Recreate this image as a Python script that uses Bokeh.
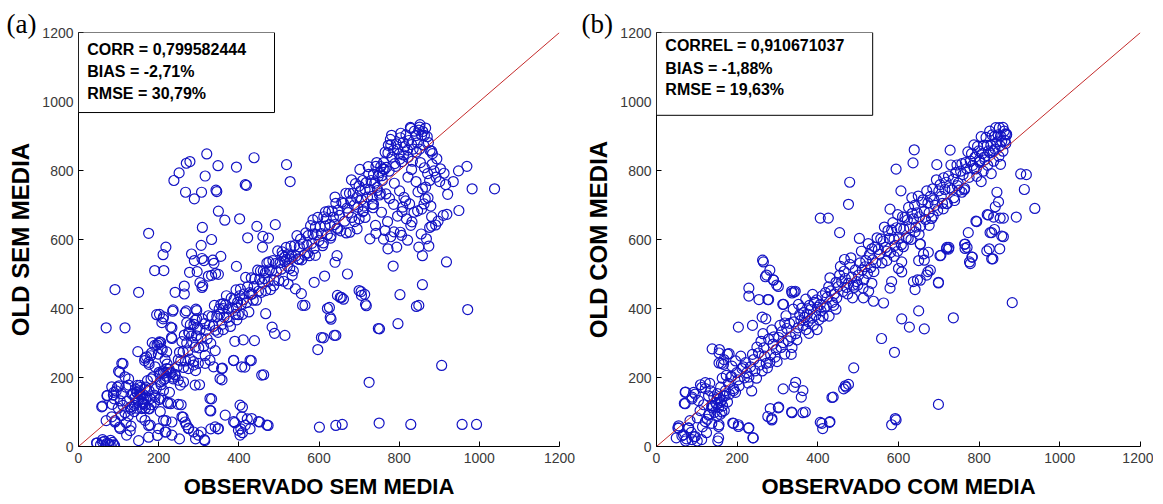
from bokeh.plotting import figure
from bokeh.layouts import row
from bokeh.models import Range1d, FixedTicker, BoxAnnotation, Label
from bokeh.embed import file_html
from bokeh.resources import INLINE

# ---------------- data ----------------
ticks = [0, 200, 400, 600, 800, 1000, 1200]
axis_limits = [0, 1200]
ref_line = [0, 1200]

stats_a = ["CORR = 0,799582444", "BIAS   = -2,71%", "RMSE = 30,79%"]
stats_b = ["CORREL = 0,910671037", "BIAS = -1,88%", "RMSE = 19,63%"]
xlabel_a = "OBSERVADO SEM MEDIA"
ylabel_a = "OLD SEM MEDIA"
xlabel_b = "OBSERVADO COM MEDIA"
ylabel_b = "OLD COM MEDIA"

# panel (a): (observado, old) pairs
pts_a = [
    # scattered points above the diagonal
    (320,848),(438,837),(348,814),(394,810),(278,826),(269,821),(251,793),(238,771),(316,784),(519,817),
    (528,768),(419,757),(267,737),(307,737),(289,718),(345,739),(349,682),(309,635),(365,656),(402,660),
    (445,638),(491,643),(422,605),(460,609),(474,604),(459,578),(332,600),(306,583),(175,618),(218,578),
    (211,556),(282,558),(289,539),(313,539),(355,551),(338,531),(394,522),(349,499),(332,496),(277,505),
    (296,507),(310,466),(190,510),(213,510),(91,455),(150,447),(69,344),(116,344),(241,447),(264,465),
    (264,442),(236,396),(202,383),(211,370),(230,346),(232,316),(205,302),(269,393),(295,394),(279,353),
    (295,370),(275,331),(361,414),(394,402),(390,305),(411,309),(439,307),(387,249),(415,230),(431,249),
    (462,208),(467,385),(483,346),(489,328),(515,322),(359,227),(358,193),(302,179),(292,220),(332,138),
    (330,103),(409,114),(230,124),(256,121),(303,475),(308,461),(324,494),(342,501),(308,545),(335,540),
    (343,743),(416,759),
    # low values
    (601,56),(642,61),(658,64),(750,68),(829,64),(957,64),(993,64),(473,61),(452,71),(421,80),
    (428,51),(409,40),(405,51),(390,69),(348,51),(330,51),(306,42),(315,17),(292,22),(275,53),
    (269,63),(261,85),(252,22),(218,42),(218,75),(197,32),(175,27),(150,17),(175,61),(157,85),
    (129,46),(102,56),(69,75),(91,75),(107,90),(88,5),(72,10),(46,10),(60,13),(79,5),
    (60,117),(72,148),(97,172),(88,157),(107,153),(103,215),(111,240),(125,196),(118,172),(129,114),
    (146,111),(162,124),(177,109),(190,128),(205,140),(222,128),(227,157),(212,162),(236,196),(218,215),
    (201,215),(181,196),(167,172),(142,167),(153,153),(153,177),(148,275),(165,249),(175,244),(180,263),
    (190,293),(195,382),(212,376),(235,392),(266,388),(293,398),(270,359),(291,366),(233,344),(208,359),
    (170,260),(200,299),(206,284),(220,274),(233,313),(108,241),(100,218),(116,202),(125,178),(83,173),
    (87,149),(71,147),(58,115),(83,86),(91,71),(104,52),(120,33),
    (137,154),(145,158),(154,149),(162,139),(150,134),(141,125),(166,120),(175,110),(158,110),(179,139),
    (191,144),(212,212),(220,226),(229,216),(241,207),(216,197),(204,187),(249,192),(274,226),(287,236),
    (299,241),(254,178),(262,187),(291,178),(224,125),(249,122),(204,101),(212,76),(233,71),(166,76),
    (179,62),(200,52),(216,42),(233,33),(258,86),(266,71),(274,52),(287,42),(299,33),(314,20),
    (328,139),(328,105),(341,57),(349,52),(366,91),(387,72),(403,120),(407,86),(416,62),(432,81),
    (449,72),(470,62),(399,47),(403,33),(387,250),(407,231),(428,250),(457,207),(357,226),(353,197),
    (328,250),(316,241),(337,231),
    (45,10),(55,5),(65,15),(75,8),(85,12),(90,3),(60,20),(80,18),
    # scattered points below the diagonal
    (1038,747),(982,747),(969,812),(948,799),(935,768),(949,684),(919,673),(910,670),(881,666),(876,635),
    (849,578),(855,616),(918,535),(906,235),(971,397),(858,469),(849,409),(797,356),(802,440),(785,523),
    (794,578),(803,621),(765,626),(772,573),(751,341),(725,186),(714,441),(705,449),(718,408),(727,602),
    (741,641),(671,500),(656,432),(661,427),(642,322),(626,403),(630,369),(611,315),(597,281),(614,494),
    (640,534),(645,553),(677,621),(709,680),(700,660),(565,409),(541,457),(523,471),(514,549),(533,496),
    (588,476),(894,834),(903,805),(881,856),(858,553),(829,641),(809,694),(818,660),(837,679),(865,718),
    (858,747),(876,771),(606,316),(638,322),(748,342),(843,406),(621,400),(628,374),(646,438),(653,432),
    (700,452),(706,438),(716,412),(559,409),(556,443),
    # dense band, low cluster
    (141,142),(146,156),(151,161),(156,146),(161,151),(149,133),(166,167),(154,171),(139,119),(134,151),
    (171,141),(162,126),(176,162),(147,177),(158,129),(131,108),(121,131),(167,111),(181,121),(172,191),
    (186,202),(176,238),(191,231),(204,212),(211,219),(216,252),(221,239),(199,268),(182,271),(166,256),
    (184,301),(196,294),(202,303),(209,281),(226,224),(231,213),(236,201),(241,209),(246,231),(249,252),
    (219,204),(213,194),(206,179),(194,168),(201,136),(189,149),(99,111),(111,119),(116,98),(104,132),
    (94,161),(89,138),(84,122),(101,176),(124,89),(139,101),(119,69),(131,59),
    # dense band 250-350
    (252,273),(255,248),(258,304),(261,274),(264,323),(267,248),(270,300),(273,277),(276,328),(279,253),
    (282,320),(285,302),(288,354),(291,288),(294,321),(297,346),(300,286),(303,338),(306,314),(309,370),
    (312,290),(315,356),(318,337),(321,312),(324,379),(327,351),(330,299),(333,377),(336,348),(339,409),
    (342,337),(345,377),(348,331),(351,399),(262,229),(287,246),(316,264),(341,278),
    # dense band 350-460
    (352,383),(358,354),(355,412),(363,375),(361,339),(367,411),(371,374),(369,437),(376,363),(374,399),
    (381,430),(379,348),(385,401),(388,426),(391,383),(393,454),(397,418),(399,382),(402,437),(406,413),
    (404,456),(409,383),(413,442),(411,425),(417,490),(419,417),(422,463),(425,390),(427,446),(431,489),
    (433,442),(436,424),(440,486),(438,464),(444,424),(447,511),(449,450),(452,485),(456,447),(454,509),
    (458,475),(360,400),(395,367),(430,441),
    # dense band 460-560
    (461,509),(464,487),(467,452),(470,532),(473,478),(476,512),(479,455),(482,509),(485,539),(488,482),
    (491,530),(494,507),(497,567),(500,481),(503,533),(506,514),(509,554),(512,479),(515,536),(518,577),
    (521,523),(524,558),(527,516),(530,581),(533,551),(536,509),(539,582),(542,552),(545,611),(548,544),
    (551,579),(554,601),(557,541),(466,503),(487,466),(508,564),(529,544),(550,542),(475,535),(519,543),
    # dense band 560-660
    (561,587),(564,555),(567,619),(570,584),(573,611),(576,553),(579,640),(582,589),(585,616),(588,574),
    (591,636),(594,614),(597,664),(600,597),(603,638),(606,617),(609,582),(612,666),(615,639),(618,660),
    (621,614),(624,682),(627,643),(630,611),(633,682),(636,665),(639,643),(642,705),(645,633),(648,685),
    (651,670),(654,625),(657,708),(572,561),(591,554),(611,590),(629,604),(647,630),(585,657),(616,680),
    (640,723),
    # dense band 660-760
    (661,705),(664,653),(667,734),(670,691),(673,678),(676,734),(679,712),(682,664),(685,734),(688,700),
    (691,762),(694,721),(697,693),(700,755),(703,741),(706,715),(709,771),(712,697),(715,745),(718,765),
    (721,723),(724,789),(727,745),(730,771),(733,725),(736,789),(739,763),(742,812),(745,751),(748,783),
    (751,729),(754,811),(757,785),(760,805),(668,619),(689,652),(711,683),(733,702),(753,734),(681,773),
    (702,803),(723,811),(744,823),(695,631),(715,664),(735,692),
    # dense band 760-920
    (761,823),(765,853),(768,809),(772,851),(775,798),(779,874),(782,839),(786,859),(789,820),(793,877),
    (796,862),(800,848),(803,895),(807,826),(810,881),(814,869),(817,903),(821,859),(824,887),(828,925),
    (831,875),(835,862),(838,914),(842,901),(845,880),(849,917),(852,933),(856,902),(859,913),(863,902),
    (866,923),(870,898),(778,890),(804,908),(829,922),(851,926),
    (781,902),(773,873),(763,803),(791,812),(802,833),(811,845),(822,838),(833,827),(843,853),(851,862),
    (861,874),(873,881),(877,858),(883,849),(788,763),(801,741),(812,722),(822,781),(831,803),(842,768),
    (853,823),(863,808),(871,791),(882,818),(887,799),(892,781),(866,752),(847,738),(826,703),(816,712),
    (807,681),(796,668),(786,702),(776,719),(767,732),(758,771),(751,793),(746,742),(736,702),(756,679),
    (771,652),(742,618),(761,601),(779,608),(787,622),(806,612),(821,598),(832,651),(846,683),(856,688),
    (862,703),(872,721),(879,697),(891,642),(897,653),(881,639),(868,602),(874,581),(901,768),(912,792),
    (916,759),(921,731),
]

# panel (b): (observado, old) pairs
pts_b = [
    # scattered points
    (639,860),(636,822),(594,804),(479,766),(476,702),(406,662),(426,662),(454,620),(263,540),(281,511),
    (270,492),(290,483),(302,464),(229,459),(229,436),(254,426),(276,426),(313,412),(336,445),(341,448),
    (203,346),(238,351),(262,375),(271,370),(138,283),(155,271),(180,269),(166,238),(155,242),(72,158),
    (69,125),(88,143),(53,54),(49,25),(80,54),(83,75),(72,16),(101,16),(124,40),(152,16),
    (155,63),(189,68),(203,63),(229,54),(239,25),(286,77),(276,87),(302,112),(314,167),(341,172),
    (336,98),(363,98),(345,186),(363,162),(359,143),(406,70),(412,52),(429,70),(438,143),(464,167),
    (470,172),(489,228),(583,63),(594,77),(699,122),(590,273),(558,313),(608,370),(627,346),(650,393),
    (664,341),(736,373),(882,417),(938,690),(892,665),(903,790),(917,788),(912,745),(860,608),(860,662),
    (851,573),(834,544),(825,573),(783,549),(776,535),(770,577),(765,587),(773,620),(792,653),(820,672),
    (827,620),(838,629),(699,474),(705,554),(719,573),(725,577),(673,507),(664,540),(654,587),(647,483),
    (641,455),(265,535),(273,497),(290,482),(298,468),(335,450),(344,450),(278,426),(315,412),(435,142),
    (430,72),(410,67),(335,100),(369,100),(286,81),(282,110),(303,114),(592,81),(476,180),(468,176),
    (856,610),(831,620),(819,567),(831,544),(782,549),(778,530),(764,586),(765,574),(720,577),(724,572),
    (703,553),(699,476),(679,511),(670,497),(654,482),(637,478),(662,558),(674,563),(650,539),(654,586),
    (794,652),(823,671),(836,665),(852,662),(840,695),(848,709),(844,737),(608,506),(600,516),(608,535),
    (583,478),(579,459),(563,416),(534,473),(526,450),(538,421),(513,431),
    # low cluster
    (71,157),(92,157),(71,124),(88,138),(112,171),(121,185),(129,147),(137,119),(150,138),(158,128),
    (170,147),(162,100),(129,91),(121,72),(137,67),(154,58),(191,67),(203,58),(228,53),(240,25),
    (154,25),(55,53),(67,34),(88,20),(96,29),(112,20),(79,53),
    (55,60),(63,31),(74,22),(86,41),(93,28),(101,83),(108,104),(117,121),(126,79),(131,93),
    (137,112),(142,144),(114,57),(104,133),(96,152),(132,183),(121,168),(109,179),
    (146,128),(151,153),(156,139),(161,133),(166,147),(149,122),(139,118),(171,162),(159,172),(154,113),
    (144,99),(134,161),(164,118),(176,129),(181,152),(168,104),(158,93),(149,88),(178,183),(186,203),
    (191,168),(196,157),(173,206),(163,198),(161,241),(167,252),(156,281),(176,268),
    # band 180-300
    (184,201),(191,162),(187,233),(199,214),(205,176),(196,248),(212,226),(218,199),(209,262),(224,214),
    (221,243),(229,201),(233,231),(238,267),(227,184),(244,219),(249,288),(241,252),(256,236),(253,271),
    (262,219),(259,305),(268,262),(272,241),(266,286),(278,311),(283,266),(275,228),(289,297),(294,259),
    (286,338),(297,281),(281,244),(291,318),(236,161),(248,198),(264,327),(299,246),(215,231),(202,193),
    # band 300-420
    (303,316),(309,287),(306,351),(314,301),(318,268),(311,333),(323,342),(327,306),(321,379),(333,318),
    (336,287),(330,357),(341,361),(345,327),(339,398),(351,344),(355,382),(348,309),(358,366),(363,351),
    (360,401),(367,374),(371,339),(365,388),(376,362),(379,409),(374,384),(385,372),(389,352),(382,397),
    (391,418),(395,381),(387,441),(399,404),(403,368),(397,425),(408,393),(411,437),(406,412),(416,401),
    (419,446),(413,377),(352,412),(370,427),(334,267),(378,328),(398,339),(318,358),
    # band 420-540
    (423,432),(427,463),(421,407),(432,451),(436,418),(430,489),(441,442),(445,476),(439,409),(450,463),
    (454,497),(447,431),(459,478),(462,449),(456,522),(468,487),(471,461),(465,508),(476,473),(479,528),
    (474,442),(484,491),(488,468),(482,547),(493,512),(496,478),(490,461),(501,497),(505,532),(499,468),
    (510,511),(514,483),(508,566),(519,539),(523,502),(517,521),(528,556),(531,519),(525,588),(536,541),
    (539,507),(534,573),(445,398),(486,431),(466,542),(512,459),(428,378),(503,603),
    # band 540-660
    (541,578),(544,532),(547,605),(550,571),(553,557),(556,602),(559,532),(562,595),(565,636),(568,577),
    (571,566),(574,626),(577,603),(580,562),(583,627),(586,649),(589,601),(592,583),(595,634),(598,672),
    (601,602),(604,633),(607,585),(610,666),(613,630),(616,664),(619,605),(622,657),(625,693),(628,634),
    (631,600),(634,676),(637,660),(640,699),(643,636),(646,677),(649,726),(652,666),(655,639),(658,708),
    (571,539),(598,566),(624,603),(579,688),(612,579),(641,622),(606,741),(589,551),(633,721),(651,615),
    # band 660-780
    (661,715),(664,682),(667,658),(670,741),(673,706),(676,678),(679,725),(682,661),(685,747),(688,715),
    (691,699),(694,773),(697,684),(700,741),(703,759),(706,725),(709,705),(712,779),(715,745),(718,766),
    (721,704),(724,784),(727,750),(730,816),(733,744),(736,775),(739,713),(742,794),(745,816),(748,763),
    (751,743),(754,798),(757,820),(760,788),(763,744),(766,823),(769,805),(772,854),(775,780),(778,827),
    (686,668),(711,689),(737,721),(764,748),(695,817),(728,859),(676,641),(757,737),(719,704),(746,756),
    # band 780-870
    (781,849),(784,815),(787,874),(790,839),(793,805),(796,870),(799,857),(802,828),(805,898),(808,849),
    (811,873),(814,831),(817,896),(820,873),(823,857),(826,914),(829,873),(832,903),(835,857),(838,899),
    (841,924),(844,883),(847,903),(850,924),(853,900),(856,885),(859,925),(862,914),(865,906),(868,905),
    (788,806),(801,824),(813,839),(827,851),(839,862),(852,872),(864,887),(794,783),(810,798),(821,815),
    (836,827),(849,841),(859,856),(805,768),(830,791),(853,818),(868,903),(866,878),
]

obs_a = [p[0] for p in pts_a]
old_a = [p[1] for p in pts_a]
obs_b = [p[0] for p in pts_b]
old_b = [p[1] for p in pts_b]

MARKER_COLOR = "#1414c4"
LINE_COLOR = "#c42a2a"
SANS = "Liberation Sans"


def make_panel(obs, old, stats, tag, xlabel, ylabel, width, height,
               bl, br, bt, bb, box_right, box_bottom, text_ys, tag_offset):
    p = figure(width=width, height=height, output_backend="svg",
               toolbar_location=None,
               x_range=Range1d(axis_limits[0], axis_limits[1]),
               y_range=Range1d(axis_limits[0], axis_limits[1]),
               min_border_left=bl, min_border_right=br,
               min_border_top=bt, min_border_bottom=bb)
    p.outline_line_color = None
    p.grid.visible = False
    p.background_fill_color = "white"
    p.border_fill_color = "white"

    # panel tag "(a)" / "(b)" as the figure title, shifted left of the frame
    p.title.text = tag
    p.title.align = "left"
    p.title.offset = tag_offset
    p.title.standoff = -13
    p.title.vertical_align = "bottom"
    p.title.text_font = "Liberation Serif"
    p.title.text_font_size = "27px"
    p.title.text_font_style = "normal"
    p.title.text_color = "black"

    for ax in (p.xaxis[0], p.yaxis[0]):
        ax.ticker = FixedTicker(ticks=ticks)
        ax.axis_line_color = "black"
        ax.axis_line_width = 1
        ax.major_tick_in = 5
        ax.major_tick_out = 0
        ax.major_tick_line_color = "black"
        ax.minor_tick_line_color = None
        ax.major_label_text_font = SANS
        ax.major_label_text_font_size = "14px"
        ax.major_label_text_color = "#3a3a3a"
        ax.axis_label_text_font = SANS
        ax.axis_label_text_font_style = "bold"
        ax.axis_label_text_color = "black"
    p.xaxis[0].axis_label = xlabel
    p.yaxis[0].axis_label = ylabel
    p.xaxis[0].axis_label_text_font_size = "22px"
    p.yaxis[0].axis_label_text_font_size = "24px"
    p.xaxis[0].major_label_standoff = 6
    p.yaxis[0].major_label_standoff = 5
    p.xaxis[0].axis_label_standoff = 8
    p.yaxis[0].axis_label_standoff = 5

    p.scatter(obs, old, marker="circle", size=10, fill_color=None,
              line_color=MARKER_COLOR, line_width=1.2)
    p.line(ref_line, ref_line, line_color=LINE_COLOR, line_width=1)

    box = BoxAnnotation(left=0, right=box_right, bottom=box_bottom, top=1200,
                        fill_color="white", fill_alpha=1.0,
                        line_color="black", line_width=1, line_alpha=1.0)
    p.add_layout(box)
    for txt, yy in zip(stats, text_ys):
        p.add_layout(Label(x=22, y=yy, text=txt, text_font=SANS,
                           text_font_style="bold", text_font_size="16px",
                           text_color="black", text_baseline="middle"))
    return p


p1 = make_panel(obs_a, old_a, stats_a, "(a)", xlabel_a, ylabel_a,
                578, 501, 78, 19, 32, 55, 489, 968, [1150, 1087, 1024], -72)
p2 = make_panel(obs_b, old_b, stats_b, "(b)", xlabel_b, ylabel_b,
                575, 501, 78, 13, 32, 55, 536, 960, [1163, 1095, 1035], -75)

layout = row(p1, p2)
open("out.html", "w").write(file_html(layout, INLINE))
